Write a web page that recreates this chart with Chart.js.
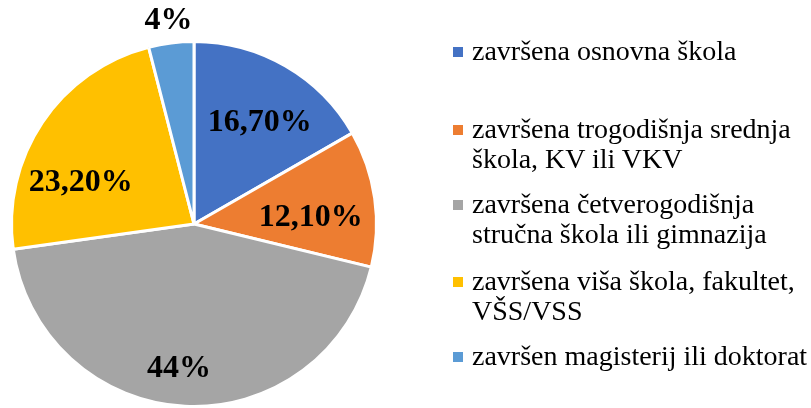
<!DOCTYPE html>
<html>
<head>
<meta charset="utf-8">
<script src="https://cdn.jsdelivr.net/npm/chart.js@4"></script>
<style>
  body { margin: 0; background: #fff; }
  #wrap { position: relative; width: 811px; height: 408px; overflow: hidden; }
  #legend { position: absolute; left: 0; top: 0; }
  .item { position: absolute; left: 472px; font: 28px "Liberation Serif", "Times New Roman", serif; line-height: 29.5px; color: #000; white-space: nowrap; }
  .box { position: absolute; left: -19px; top: 11px; width: 10px; height: 10px; }
</style>
</head>
<body>
<div id="wrap">
  <canvas id="pie" width="811" height="408"></canvas>
  <div id="legend"></div>
</div>
<script>
// data
const categories = [
  ['završena osnovna škola'],
  ['završena trogodišnja srednja', 'škola, KV ili VKV'],
  ['završena četverogodišnja', 'stručna škola ili gimnazija'],
  ['završena viša škola, fakultet,', 'VŠS/VSS'],
  ['završen magisterij ili doktorat']
];
const values = [16.7, 12.1, 44, 23.2, 4];
const valueLabels = ['16,70%', '12,10%', '44%', '23,20%', '4%'];
const colors = ['#4472C4', '#ED7D31', '#A5A5A5', '#FFC000', '#5B9BD5'];

// label placement (fraction of radius, angle shift in degrees)
const labelRadius = [0.66, 0.64, 0.8, 0.66, 1.12];
const labelShift = [3, 5, 3, -14, 0];
const legendTops = [36, 114, 189, 266, 341];

// legend
const legend = document.getElementById('legend');
categories.forEach((lines, i) => {
  const div = document.createElement('div');
  div.className = 'item';
  div.style.top = legendTops[i] + 'px';
  div.innerHTML = '<span class="box" style="background:' + colors[i] + '"></span>' + lines.join('<br>');
  legend.appendChild(div);
});

const pieLabels = {
  id: 'pieLabels',
  afterDatasetsDraw(chart) {
    const ctx = chart.ctx;
    const arcs = chart.getDatasetMeta(0).data;
    ctx.save();
    ctx.font = 'bold 32px "Liberation Serif", "Times New Roman", serif';
    ctx.fillStyle = '#000';
    ctx.textAlign = 'center';
    ctx.textBaseline = 'middle';
    arcs.forEach((arc, i) => {
      const p = arc.getProps(['x', 'y', 'startAngle', 'endAngle', 'outerRadius'], true);
      const mid = (p.startAngle + p.endAngle) / 2 + labelShift[i] * Math.PI / 180;
      const r = p.outerRadius * labelRadius[i];
      ctx.fillText(valueLabels[i], p.x + Math.cos(mid) * r, p.y + Math.sin(mid) * r);
    });
    ctx.restore();
  }
};

new Chart(document.getElementById('pie'), {
  type: 'pie',
  data: {
    labels: categories.map(c => c.join(' ')),
    datasets: [{
      data: values,
      backgroundColor: colors,
      borderColor: '#fff',
      borderWidth: 3
    }]
  },
  options: {
    responsive: false,
    animation: false,
    layout: { padding: { left: 9, right: 432, top: 40, bottom: -2 } },
    plugins: { legend: { display: false }, tooltip: { enabled: false } }
  },
  plugins: [pieLabels]
});
</script>
</body>
</html>
